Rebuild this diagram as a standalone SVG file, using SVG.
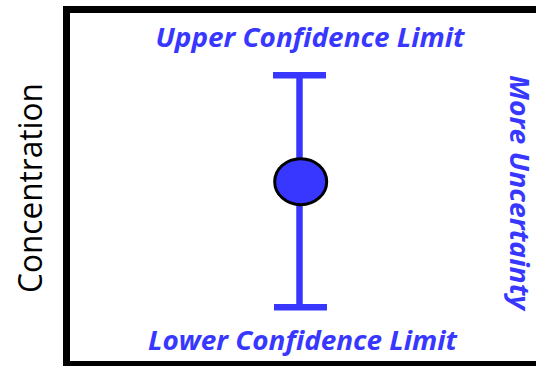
<svg xmlns="http://www.w3.org/2000/svg" width="536" height="366" viewBox="0 0 536 366">
<style>
.lbl{font-family:"Open Sans","Liberation Sans",sans-serif;font-weight:bold;font-style:italic;fill:#3737FF}
.bar{stroke:#3737FF;stroke-width:6.5;fill:none}
</style>
<rect x="0" y="0" width="536" height="366" fill="#ffffff"/>
<g id="frame"><rect x="66.5" y="9.5" width="490" height="355" fill="none" stroke="#000" stroke-width="7"/></g>
<g id="axis-label"><text transform="translate(42,188) rotate(-90)" text-anchor="middle" font-family="Open Sans, Liberation Sans, sans-serif" font-size="32" fill="#000" textLength="210" lengthAdjust="spacingAndGlyphs">Concentration</text></g>
<g id="connectors">
<line class="bar" x1="299.5" y1="75" x2="299.5" y2="307"/>
<line class="bar" x1="273" y1="75.3" x2="326" y2="75.3"/>
<line class="bar" x1="274" y1="307.3" x2="327" y2="307.3"/>
</g>
<g id="point"><ellipse cx="300.7" cy="181.7" rx="26" ry="23" fill="#3737FF" stroke="#000" stroke-width="3"/></g>
<g id="upper"><text class="lbl" x="310" y="46.5" text-anchor="middle" font-size="27" textLength="309" lengthAdjust="spacingAndGlyphs">Upper Confidence Limit</text></g>
<g id="lower"><text class="lbl" x="302.5" y="350" text-anchor="middle" font-size="27" textLength="309" lengthAdjust="spacingAndGlyphs">Lower Confidence Limit</text></g>
<g id="uncertainty"><text class="lbl" transform="translate(509.5,192.5) rotate(90)" text-anchor="middle" font-size="27" textLength="235" lengthAdjust="spacingAndGlyphs">More Uncertainty</text></g>
</svg>
